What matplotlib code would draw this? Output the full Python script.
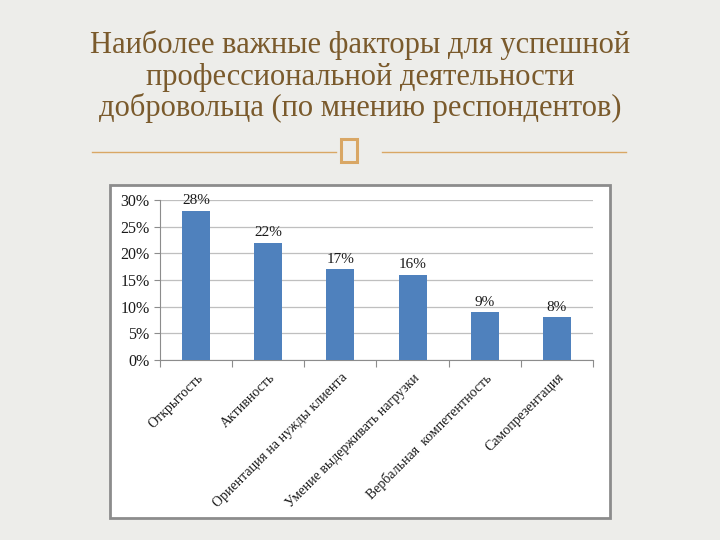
import matplotlib.pyplot as plt
from matplotlib.patches import Rectangle
from matplotlib.lines import Line2D
from matplotlib.ticker import FuncFormatter

# данные
factors = ['Открытость', 'Активность', 'Ориентация на нужды клиента',
           'Умение выдерживать нагрузки', 'Вербальная  компетентность',
           'Самопрезентация']
shares = [28, 22, 17, 16, 9, 8]
y_ticks = [0, 5, 10, 15, 20, 25, 30]

title_lines = ['Наиболее важные факторы для успешной',
               'профессиональной деятельности',
               'добровольца (по мнению респондентов)']
title_y = [45, 77, 108]

W, H = 720, 540
fig = plt.figure(figsize=(7.2, 5.4), dpi=100)
fig.patch.set_facecolor('#EDEDEA')

serif = ['Liberation Serif', 'DejaVu Serif']

# заголовок
for line, yy in zip(title_lines, title_y):
    fig.text(0.5, 1 - yy / H, line, ha='center', va='center', fontsize=22,
             color='#7A5A2C', family=serif)

# декоративная линия с квадратиком
gold = '#D9A765'
fig.add_artist(Line2D([92 / W, 336 / W], [1 - 152 / H] * 2, color=gold, lw=1.0))
fig.add_artist(Line2D([382 / W, 626 / W], [1 - 152 / H] * 2, color=gold, lw=1.0))
fig.add_artist(Rectangle((341 / W, 1 - 162 / H), 16 / W, 23 / H,
                         fill=False, edgecolor=gold, lw=2.2))

# белая панель диаграммы
fig.add_artist(Rectangle((110 / W, 1 - 518 / H), 500 / W, 333 / H,
                         facecolor='white', edgecolor='#8C8C8C', lw=2,
                         zorder=-1))

ax = fig.add_axes([160 / W, 1 - 360 / H, 433 / W, 160 / H])
ax.set_facecolor('white')
x = list(range(len(factors)))
bars = ax.bar(x, shares, width=0.39, color='#4F81BD', zorder=3)

for xi, v in zip(x, shares):
    ax.text(xi, v + 0.6, f'{v}%', ha='center', va='bottom', fontsize=11,
            family=serif, color='#1A1A1A')

ax.set_ylim(0, 30)
ax.set_xlim(-0.5, len(factors) - 0.5)
ax.set_yticks(y_ticks)
ax.yaxis.set_major_formatter(FuncFormatter(lambda v, p: f'{v:.0f}%'))
ax.grid(axis='y', color='#BFBFBF', lw=0.9, zorder=0)

ax.set_xticks([i - 0.5 for i in range(len(factors) + 1)])
ax.set_xticklabels([])
ax.set_xticks(x, minor=True)
ax.set_xticklabels(factors, minor=True, rotation=45, ha='right',
                   rotation_mode='anchor', fontsize=10, family=serif,
                   color='#1A1A1A')
ax.tick_params(axis='x', which='minor', length=0, pad=8)
ax.tick_params(axis='x', which='major', length=5, color='#8C8C8C', direction='out')
ax.tick_params(axis='y', length=4, color='#8C8C8C', labelsize=11.5,
               labelcolor='#1A1A1A')
for lab in ax.get_yticklabels():
    lab.set_family(serif)

for s in ['top', 'right']:
    ax.spines[s].set_visible(False)
for s in ['left', 'bottom']:
    ax.spines[s].set_color('#8C8C8C')

plt.savefig('out.png', dpi=100, facecolor=fig.get_facecolor())
